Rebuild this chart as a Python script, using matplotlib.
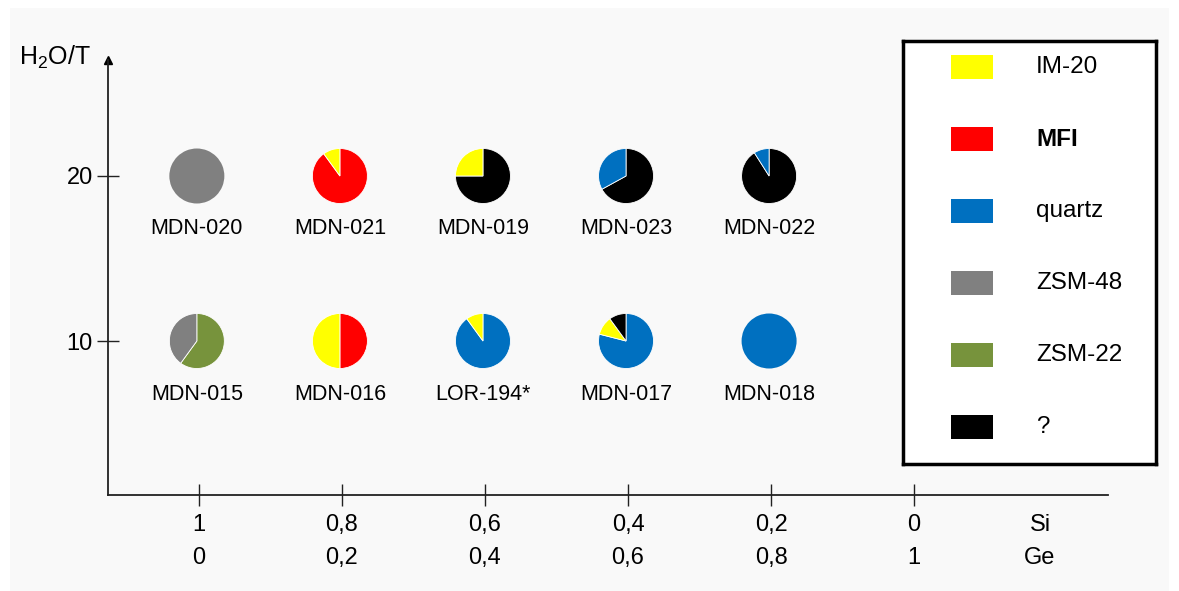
import matplotlib.pyplot as plt
from matplotlib.patches import Rectangle

plt.rcParams['font.family'] = ['Liberation Sans', 'DejaVu Sans']
plt.rcParams['mathtext.fontset'] = 'custom'
plt.rcParams['mathtext.rm'] = 'Liberation Sans'

# данные
phases = ['IM-20', 'MFI', 'quartz', 'ZSM-48', 'ZSM-22', '?']
colors = {'IM-20': '#FFFF00', 'MFI': '#FF0000', 'quartz': '#0070C0',
          'ZSM-48': '#808080', 'ZSM-22': '#77933C', '?': '#000000'}

samples = ['MDN-020', 'MDN-021', 'MDN-019', 'MDN-023', 'MDN-022',
           'MDN-015', 'MDN-016', 'LOR-194*', 'MDN-017', 'MDN-018']
si = [1, 0.8, 0.6, 0.4, 0.2, 1, 0.8, 0.6, 0.4, 0.2]
h2o_t = [20, 20, 20, 20, 20, 10, 10, 10, 10, 10]
# фазы по часовой стрелке от 12 часов
pie_phases = [['ZSM-48'], ['MFI', 'IM-20'], ['?', 'IM-20'], ['?', 'quartz'],
              ['?', 'quartz'], ['ZSM-22', 'ZSM-48'], ['MFI', 'IM-20'],
              ['quartz', 'IM-20'], ['quartz', 'IM-20', '?'], ['quartz']]
pie_fracs = [[100], [90, 10], [75, 25], [67, 33], [91, 9], [60, 40],
             [50, 50], [90, 10], [79, 11, 10], [100]]

si_ticks = [1, 0.8, 0.6, 0.4, 0.2, 0]
ge_ticks = [0, 0.2, 0.4, 0.6, 0.8, 1]

W, H = 1179, 591
fig = plt.figure(figsize=(W / 100, H / 100), dpi=100)
fig.patch.set_facecolor('white')
fig.patches.append(Rectangle((10 / W, 0), 1159 / W, 583 / H, transform=fig.transFigure,
                             facecolor='#f9f9f9', edgecolor='none', zorder=-10))

def px(x0, y0, x1, y1):
    # пиксели картинки -> доли фигуры
    return [x0 / W, 1 - y1 / H, (x1 - x0) / W, (y1 - y0) / H]

ax = fig.add_axes(px(108, 60, 1108, 495))
ax.set_facecolor('none')
ax.set_xlim(1.127, -0.271)
ax.set_ylim(0.667, 27.03)
for s in ['top', 'right']:
    ax.spines[s].set_visible(False)
for s in ['left', 'bottom']:
    ax.spines[s].set_color('#222222')
    ax.spines[s].set_linewidth(1.3)
ax.set_xticks(si_ticks)
ax.set_yticks([10, 20])
ax.set_xticklabels([])
ax.set_yticklabels(['10', '20'], fontsize=17)
ax.tick_params(axis='x', direction='inout', length=16, width=1, color='#222222')
ax.tick_params(axis='y', direction='inout', length=16, width=1, color='#222222', pad=3)
ax.plot([1.127], [27.03], marker='^', color='black', markersize=6, clip_on=False)

tr = ax.get_xaxis_transform()
for s_, g_ in zip(si_ticks, ge_ticks):
    ax.text(s_, -30 / 435, f'{s_:g}'.replace('.', ','), transform=tr,
            ha='center', va='center', fontsize=17)
    ax.text(s_, -63 / 435, f'{g_:g}'.replace('.', ','), transform=tr,
            ha='center', va='center', fontsize=17)
ax.text(-0.176, -30 / 435, 'Si', transform=tr, ha='center', va='center', fontsize=17)
ax.text(-0.176, -63 / 435, 'Ge', transform=tr, ha='center', va='center', fontsize=17)
fig.text(19 / W, 1 - 57 / H, 'H$_2$O/T', ha='left', va='center', fontsize=18)

# пироги
fig.canvas.draw()
d = 55
for name, x, y, ph, fr in zip(samples, si, h2o_t, pie_phases, pie_fracs):
    cx, cy = ax.transData.transform((x, y))
    cy = H - cy
    cx -= 2
    pa = fig.add_axes(px(cx - d / 2, cy - d / 2, cx + d / 2, cy + d / 2))
    pa.pie(fr, colors=[colors[p] for p in ph], startangle=90, counterclock=False,
           wedgeprops=dict(linewidth=0.6 if len(ph) > 1 else 0, edgecolor='white'))
    pa.set_xlim(-1, 1)
    pa.set_ylim(-1, 1)
    pa.set_aspect('equal')
    pa.axis('off')
    fig.text(cx / W, 1 - (cy + 53) / H, name, ha='center', va='center', fontsize=15.5)

# легенда
lg = fig.add_axes(px(903, 41, 1156, 464))
lg.set_xlim(0, 253)
lg.set_ylim(423, 0)
lg.set_xticks([])
lg.set_yticks([])
lg.set_facecolor('white')
for s in lg.spines.values():
    s.set_linewidth(2.5)
    s.set_color('black')
for i, p in enumerate(phases):
    yc = 26 + i * 72
    lg.add_patch(Rectangle((48, yc - 12), 42, 24, facecolor=colors[p], edgecolor='none'))
    lg.text(133, yc, p, ha='left', va='center', fontsize=17.5,
            fontweight='bold' if p == 'MFI' else 'normal')

fig.savefig('out.png', dpi=100)
